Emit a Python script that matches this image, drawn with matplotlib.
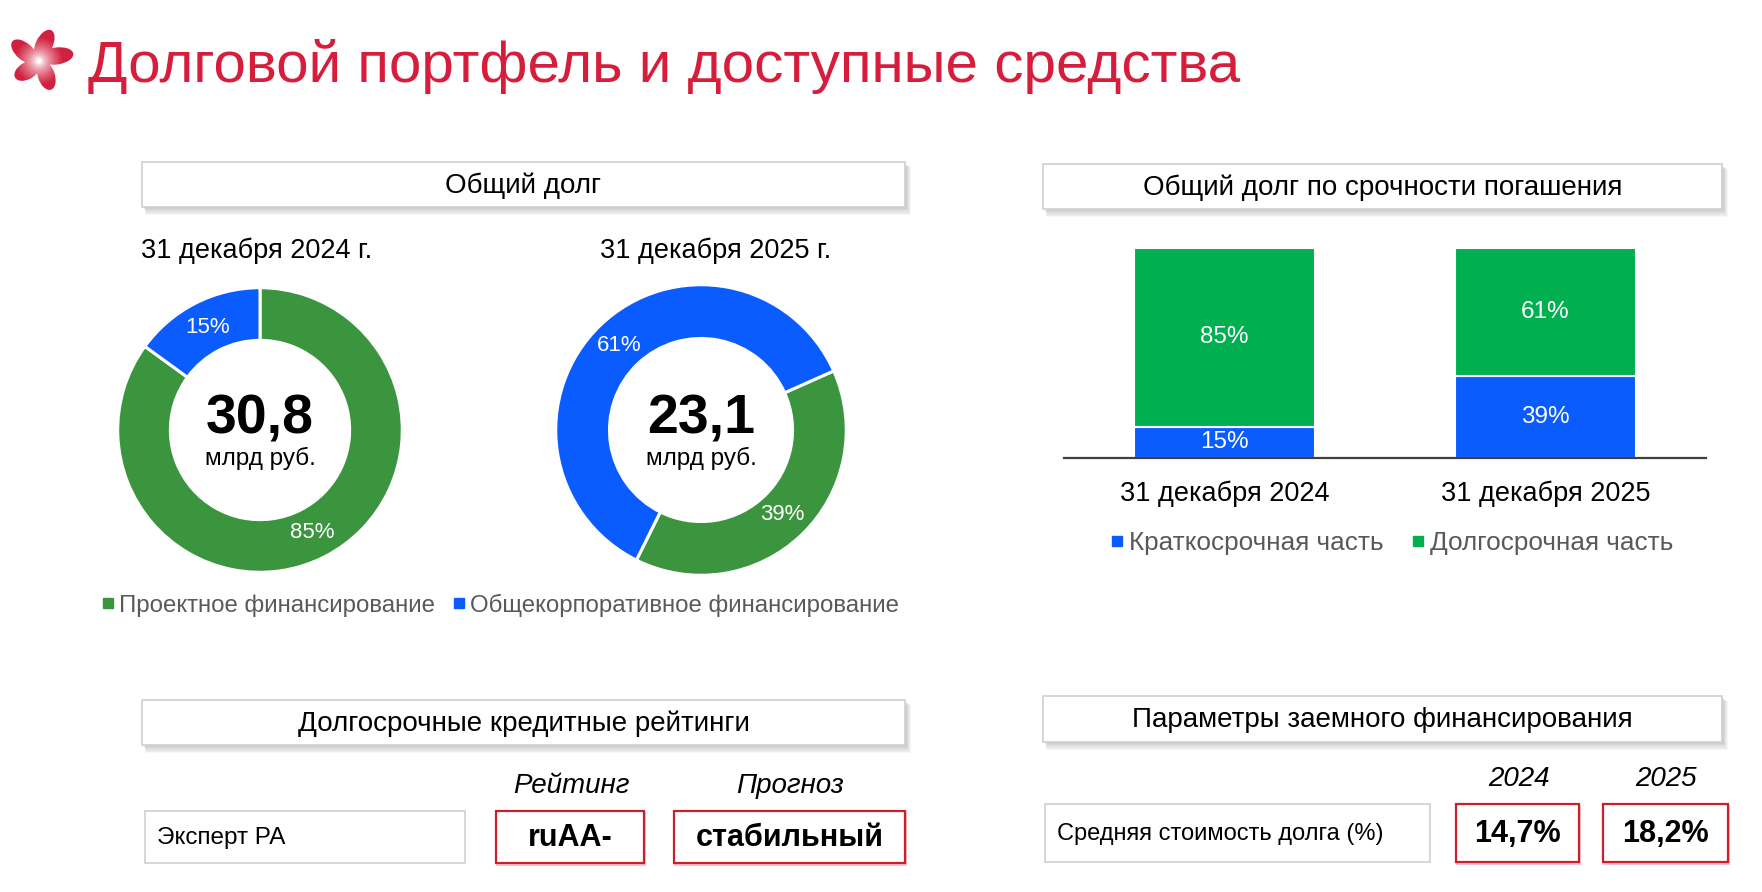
import numpy as np
import matplotlib
matplotlib.use("Agg")
import matplotlib.pyplot as plt
from matplotlib.patches import Rectangle, Ellipse
from matplotlib.lines import Line2D

plt.rcParams['font.family'] = ['Liberation Sans', 'DejaVu Sans']

# ---------------- data ----------------
title = "Долговой портфель и доступные средства"
donut_series = ['Проектное финансирование', 'Общекорпоративное финансирование']
donut_dates = ['31 декабря 2024 г.', '31 декабря 2025 г.']
debt_2024 = [85, 15]
debt_2025 = [39, 61]
debt_totals = ['30,8', '23,1']
debt_unit = 'млрд руб.'

bar_categories = ['31 декабря 2024', '31 декабря 2025']
bar_series = ['Краткосрочная часть', 'Долгосрочная часть']
short_term = [15, 39]
long_term = [85, 61]

headers = ['Общий долг', 'Общий долг по срочности погашения',
           'Долгосрочные кредитные рейтинги', 'Параметры заемного финансирования']
rating_agency = 'Эксперт РА'
rating_cols = ['Рейтинг', 'Прогноз']
rating_vals = ['ruAA-', 'стабильный']
param_name = 'Средняя стоимость долга (%)'
param_years = ['2024', '2025']
param_vals = ['14,7%', '18,2%']

# ---------------- style ----------------
GREEN_D = '#3A953E'
BLUE = '#0A5CFF'
GREEN_B = '#00B050'
RED = '#D61E3C'
BOXRED = '#CC1F2D'
GRAY_TXT = '#595959'

W, H = 1762, 892
fig = plt.figure(figsize=(W / 100, H / 100), dpi=100)
fig.patch.set_facecolor('white')

ov = fig.add_axes([0, 0, 1, 1])
ov.set_xlim(0, W)
ov.set_ylim(H, 0)
ov.axis('off')
ov.set_zorder(0)


def fax(x0, y0, x1, y1):
    return [x0 / W, 1 - y1 / H, (x1 - x0) / W, (y1 - y0) / H]


# ---------------- logo ----------------
cx, cy = 39, 61
red_rgb = np.array([0.82, 0.13, 0.25])
gx = np.linspace(4, 80, 200)
gy = np.linspace(22, 100, 200)
GX, GY = np.meshgrid(gx, gy)
dist = np.hypot(GX - cx, GY - cy)
t = np.clip((dist - 2) / 22, 0, 1) ** 0.7
img = np.ones((200, 200, 3)) * (1 - t[..., None]) + red_rgb * t[..., None]
for a, ln in [(64, 32), (8, 34), (-72, 30), (-150, 28), (139, 32)]:
    r = np.deg2rad(a)
    d = ln / 2 + 1
    px, py = np.cos(r + np.pi / 2) * 2.5, -np.sin(r + np.pi / 2) * 2.5
    ex = cx + d * np.cos(r) + px
    ey = cy - d * np.sin(r) + py
    el = Ellipse((ex, ey), ln, 17, angle=-a, facecolor='none', edgecolor='none')
    ov.add_patch(el)
    im = ov.imshow(img, extent=(4, 80, 100, 22), origin='upper', zorder=2, interpolation='bilinear')
    im.set_clip_path(el)
ov.set_xlim(0, W)
ov.set_ylim(H, 0)
ov.set_aspect('auto')

ov.text(88, 82, title, color=RED, fontsize=42, va='baseline', ha='left')


# ---------------- boxes ----------------
def header(x0, y0, x1, y1, text):
    for k in range(6):
        ov.add_patch(Rectangle((x0 + 2 + k * 0.3, y0 + 2 + k * 0.6), x1 - x0 + k * 0.4, y1 - y0 + k * 0.6,
                               facecolor='#808080', edgecolor='none', alpha=0.07, zorder=1))
    ov.add_patch(Rectangle((x0, y0), x1 - x0, y1 - y0, facecolor='white',
                           edgecolor='#CFCFCF', lw=1.2, zorder=2))
    ov.text((x0 + x1) / 2, (y0 + y1) / 2 + 1, text, ha='center', va='center', fontsize=20, zorder=3)


header(142, 162, 905, 207, headers[0])
header(1043, 164, 1722, 209, headers[1])
header(142, 700, 905, 745, headers[2])
header(1043, 696, 1722, 742, headers[3])


def cell(x0, y0, x1, y1, text, red=False, bold=False, ha='center', fs=18):
    if red:
        ov.add_patch(Rectangle((x0 + 1, y0 + 2), x1 - x0, y1 - y0, facecolor='none',
                               edgecolor=BOXRED, lw=1.5, alpha=0.25, zorder=1))
    ov.add_patch(Rectangle((x0, y0), x1 - x0, y1 - y0, facecolor='white',
                           edgecolor=BOXRED if red else '#D0D0D0', lw=1.6 if red else 1.2, zorder=2))
    if ha == 'center':
        ov.text((x0 + x1) / 2, (y0 + y1) / 2 + 1, text, ha='center', va='center', fontsize=fs,
                fontweight='bold' if bold else 'normal', zorder=3)
    else:
        ov.text(x0 + 12, (y0 + y1) / 2 + 1, text, ha='left', va='center', fontsize=fs, zorder=3)


cell(145, 811, 465, 863, rating_agency, ha='left', fs=17.5)
cell(496, 811, 644, 863, rating_vals[0], red=True, bold=True, fs=22)
cell(674, 811, 905, 863, rating_vals[1], red=True, bold=True, fs=22)
ov.text(571, 786, rating_cols[0], ha='center', va='center', fontsize=20, style='italic')
ov.text(790, 786, rating_cols[1], ha='center', va='center', fontsize=20, style='italic')

cell(1045, 804, 1430, 862, param_name, ha='left', fs=17)
cell(1456, 804, 1579, 862, param_vals[0], red=True, bold=True, fs=22)
cell(1603, 804, 1728, 862, param_vals[1], red=True, bold=True, fs=22)
ov.text(1519, 779, param_years[0], ha='center', va='center', fontsize=20, style='italic')
ov.text(1666, 779, param_years[1], ha='center', va='center', fontsize=20, style='italic')

# ---------------- donuts ----------------
donuts = [(260, 430, 143, debt_2024, 90, debt_totals[0], donut_dates[0], 257),
          (701, 430, 146, debt_2025, 24, debt_totals[1], donut_dates[1], 716)]
for (dcx, dcy, r, vals, sa, tot, date, dx) in donuts:
    ax = fig.add_axes(fax(dcx - r, dcy - r, dcx + r, dcy + r))
    ax.set_zorder(2)
    wedges, _, autot = ax.pie(vals, colors=[GREEN_D, BLUE], startangle=sa, counterclock=False,
                              radius=1, autopct=lambda p: f'{round(p)}%', pctdistance=0.81,
                              wedgeprops=dict(width=0.37, edgecolor='white', linewidth=2.2),
                              textprops=dict(color='white', fontsize=16))
    ax.set_xlim(-1.005, 1.005)
    ax.set_ylim(-1.005, 1.005)
    ax.axis('off')
    ov.text(dcx, dcy - 10, tot, ha='center', va='center', fontsize=40, fontweight='bold', zorder=3)
    ov.text(dcx, dcy + 28, debt_unit, ha='center', va='center', fontsize=17.5, zorder=3)
    ov.text(dx, 251, date, ha='center', va='center', fontsize=19.5)

handles = [Line2D([], [], marker='s', ls='none', color=c, markersize=7) for c in [GREEN_D, BLUE]]
fig.legend(handles, donut_series, loc='center', bbox_to_anchor=(499 / W, 1 - 605 / H), ncol=2,
           frameon=False, fontsize=17.3, labelcolor=GRAY_TXT, handletextpad=0.05,
           columnspacing=0.6, handlelength=0.8)

# ---------------- stacked bars ----------------
bx = fig.add_axes(fax(1064, 248, 1706, 458))
bx.set_zorder(2)
xpos = np.arange(len(bar_categories))
bw = 0.564
b1 = bx.bar(xpos, short_term, bw, color=BLUE, edgecolor='white', linewidth=1.5)
b2 = bx.bar(xpos, long_term, bw, bottom=short_term, color=GREEN_B, edgecolor='white', linewidth=1.5)
for bars, vals, bots in [(b1, short_term, [0, 0]), (b2, long_term, short_term)]:
    for rect, v, b in zip(bars, vals, bots):
        bx.text(rect.get_x() + rect.get_width() / 2, b + v / 2, f'{v}%', ha='center', va='center',
                color='white', fontsize=17.5)
bx.set_xlim(-0.5, 1.5)
bx.set_ylim(0, 100)
for s in ['top', 'right', 'left']:
    bx.spines[s].set_visible(False)
bx.spines['bottom'].set_color('#404040')
bx.spines['bottom'].set_linewidth(1.6)
bx.set_yticks([])
bx.set_xticks(xpos)
bx.set_xticklabels(bar_categories, fontsize=19.5)
bx.tick_params(axis='x', length=0, pad=16)
bx.patch.set_alpha(0)

handles2 = [Line2D([], [], marker='s', ls='none', color=c, markersize=7.5) for c in [BLUE, GREEN_B]]
fig.legend(handles2, bar_series, loc='center', bbox_to_anchor=(1390 / W, 1 - 543 / H), ncol=2,
           frameon=False, fontsize=18.8, labelcolor=GRAY_TXT, handletextpad=0.05,
           columnspacing=0.9, handlelength=0.8)

fig.savefig('out.png', dpi=100, facecolor='white')
